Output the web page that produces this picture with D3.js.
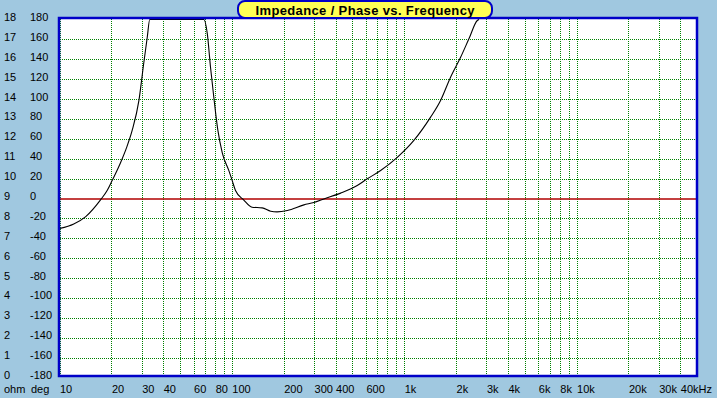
<!DOCTYPE html>
<html>
<head>
<meta charset="utf-8">
<script src="https://cdn.jsdelivr.net/npm/d3@7"></script>
<style>
  body { margin: 0; background: #a0c8e0; }
  svg { display: block; font-family: "Liberation Sans", Arial, sans-serif; }
  .lbl { font-size: 11px; fill: #000; }
</style>
</head>
<body>
<svg id="chart" width="717" height="398"></svg>
<script>
// impedance curve (Hz / ohm), values above 18 are clipped
var freqs = [10, 12.1, 14.2, 17.3, 18.9, 20.2, 22.6, 24.5, 26.4, 28.9, 30.8, 32.3, 33.4,
  36, 40, 46, 52, 60, 66, 68.8, 72, 75.2, 78.6, 82.9, 88, 96.1, 100.5, 105, 117, 131,
  150, 168, 183, 210, 262, 299, 342, 428, 534, 611, 730, 912, 1138, 1423, 1626, 1858,
  2125, 2375, 2656, 2720];
var ohms = [7.49, 7.72, 8.09, 8.93, 9.4, 9.9, 10.8, 11.56, 12.42, 13.93, 15.79, 17.11, 18.0,
  21, 27, 32, 30, 25, 20, 18.0, 17.3, 15.6, 14.09, 12.45, 11.3, 10.4, 9.9, 9.4, 8.93, 8.56,
  8.53, 8.36, 8.33, 8.4, 8.68, 8.8, 8.98, 9.27, 9.65, 9.99, 10.41, 11.07, 11.92, 13.09, 13.93,
  15.1, 16.1, 17.03, 17.95, 18.4];

var ohmTicks = d3.range(0, 19, 1);
var degTicks = d3.range(-180, 181, 20);
var freqTicks = [10, 20, 30, 40, 60, 80, 100, 200, 300, 400, 600, 1000, 2000, 3000, 4000,
  6000, 8000, 10000, 20000, 30000, 40000];
var freqLabels = ["10", "20", "30", "40", "60", "80", "100", "200", "300", "400", "600",
  "1k", "2k", "3k", "4k", "6k", "8k", "10k", "20k", "30k", "40kHz"];
var title = "Impedance / Phase vs. Frequency";

var svg = d3.select("#chart");

var x = d3.scaleLog().domain([10, 50000]).range([59.5, 697]);
var yOhm = d3.scaleLinear().domain([0, 18]).range([377.5, 19.5]).clamp(true);
var yDeg = d3.scaleLinear().domain([-180, 180]).range([377.5, 19.5]);

// plot area
svg.append("rect")
  .attr("x", 59).attr("y", 18).attr("width", 638).attr("height", 358)
  .attr("fill", "#fff");

// vertical grid, every 1..9 per decade
var gridFreqs = [];
[10, 100, 1000, 10000].forEach((dec) => {
  for (let m = 1; m <= 9; m++) {
    if (dec * m < 50000) gridFreqs.push(dec * m);
  }
});

var grid = svg.append("g").attr("shape-rendering", "crispEdges");

grid.selectAll("line.vx")
  .data(gridFreqs)
  .join("line")
  .attr("class", "vx")
  .attr("x1", (d) => Math.round(x(d)) + 0.5)
  .attr("x2", (d) => Math.round(x(d)) + 0.5)
  .attr("y1", 19).attr("y2", 376)
  .attr("stroke", "#008000")
  .attr("stroke-dasharray", "1,1");

grid.selectAll("line.hy")
  .data(degTicks.filter((d) => d !== 0 && Math.abs(d) !== 180))
  .join("line")
  .attr("class", "hy")
  .attr("x1", 60).attr("x2", 697)
  .attr("y1", (d) => Math.round(yDeg(d)) + 0.5)
  .attr("y2", (d) => Math.round(yDeg(d)) + 0.5)
  .attr("stroke", "#008000")
  .attr("stroke-dasharray", "1,1");

// zero phase line
svg.append("line")
  .attr("x1", 60).attr("x2", 697)
  .attr("y1", yDeg(0) + 0.5).attr("y2", yDeg(0) + 0.5)
  .attr("stroke", "#b00000")
  .attr("stroke-width", 1.5);

// impedance curve
var pts = freqs.map((f, i) => [f, ohms[i]]);
var line = d3.line()
  .x((d) => x(d[0]))
  .y((d) => yOhm(d[1]))
  .curve(d3.curveMonotoneX);

svg.append("clipPath").attr("id", "clip")
  .append("rect").attr("x", 60).attr("y", 19).attr("width", 636).attr("height", 356);

svg.append("path")
  .datum(pts)
  .attr("clip-path", "url(#clip)")
  .attr("d", line)
  .attr("fill", "none")
  .attr("stroke", "#000")
  .attr("stroke-width", 1.1);

// frame
svg.append("rect")
  .attr("x", 59).attr("y", 18).attr("width", 638).attr("height", 358)
  .attr("fill", "none")
  .attr("stroke", "#0000c8")
  .attr("stroke-width", 2.5);

// left labels
svg.selectAll("text.ohm")
  .data(ohmTicks)
  .join("text")
  .attr("class", "lbl ohm")
  .attr("x", 4)
  .attr("y", (d) => yOhm(d) + 1.5)
  .text((d) => d);

svg.selectAll("text.deg")
  .data(degTicks)
  .join("text")
  .attr("class", "lbl deg")
  .attr("x", 30)
  .attr("y", (d) => yDeg(d) + 1.5)
  .text((d) => d);

svg.append("text").attr("class", "lbl").attr("x", 4).attr("y", 393).text("ohm");
svg.append("text").attr("class", "lbl").attr("x", 31).attr("y", 393).text("deg");

// frequency labels
svg.selectAll("text.fq")
  .data(freqTicks)
  .join("text")
  .attr("class", "lbl fq")
  .attr("x", (d) => x(d) + 0.5)
  .attr("y", 393)
  .text((d, i) => freqLabels[i]);

// title box
svg.append("rect")
  .attr("x", 238).attr("y", 1).attr("width", 254).attr("height", 17)
  .attr("rx", 7).attr("ry", 7)
  .attr("fill", "#ffff55")
  .attr("stroke", "#0000c8")
  .attr("stroke-width", 2);

svg.append("text")
  .attr("x", 365).attr("y", 14.5)
  .attr("text-anchor", "middle")
  .attr("font-size", 13)
  .attr("font-weight", "bold")
  .attr("textLength", 219)
  .text(title);
</script>
</body>
</html>
